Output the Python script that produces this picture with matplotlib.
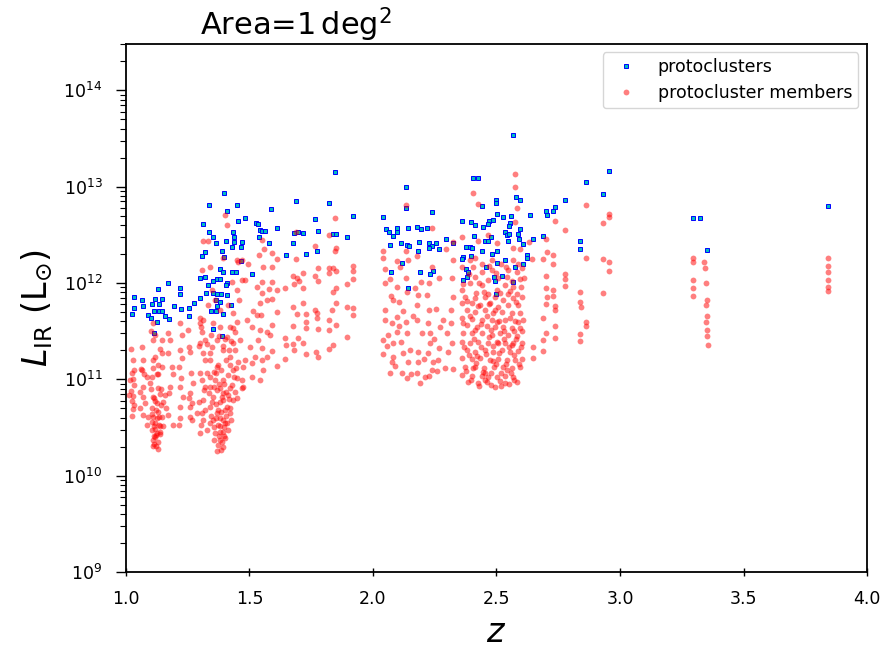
import numpy as np
import matplotlib.pyplot as plt

# protocluster total IR luminosity: (z, log10 L_IR [Lsun])
protoclusters = [
    (1.170, 12.00), (1.219, 11.95), (1.219, 11.89), (1.300, 12.05), (1.320, 12.06),
    (1.332, 11.98), (1.352, 12.02), (1.130, 11.94), (1.032, 11.85), (1.065, 11.82),
    (1.117, 11.83), (1.146, 11.83), (1.105, 11.78), (1.134, 11.78), (1.069, 11.76),
    (1.032, 11.74), (1.194, 11.76), (1.223, 11.73), (1.255, 11.74), (1.275, 11.79),
    (1.300, 11.84), (1.024, 11.68), (1.089, 11.67), (1.101, 11.64), (1.113, 11.71),
    (1.134, 11.71), (1.146, 11.71), (1.158, 11.66), (1.174, 11.63), (1.255, 11.66),
    (1.126, 11.59), (1.113, 11.48), (1.324, 11.90), (1.344, 11.71), (1.352, 11.52),
    (1.397, 12.93), (1.336, 12.81), (1.449, 12.81), (1.409, 12.75), (1.587, 12.77),
    (1.453, 12.64), (1.482, 12.67), (1.312, 12.61), (1.526, 12.62), (1.534, 12.61),
    (1.611, 12.57), (1.433, 12.53), (1.543, 12.55), (1.551, 12.54), (1.563, 12.54),
    (1.336, 12.53), (1.352, 12.48), (1.437, 12.48), (1.538, 12.48), (1.405, 12.43),
    (1.437, 12.42), (1.470, 12.42), (1.364, 12.41), (1.579, 12.41), (1.429, 12.37),
    (1.466, 12.37), (1.389, 12.33), (1.320, 12.32), (1.466, 12.23), (1.397, 12.27),
    (1.308, 12.28), (1.381, 12.14), (1.393, 12.11), (1.429, 12.11), (1.445, 12.11),
    (1.510, 12.09), (1.368, 12.04), (1.381, 12.04), (1.409, 12.00), (1.405, 11.98),
    (1.352, 11.90), (1.368, 11.89), (1.385, 11.88), (1.409, 11.87), (1.364, 11.82),
    (1.381, 11.80), (1.425, 11.77), (1.368, 11.76), (1.364, 11.71), (1.393, 11.68),
    (1.389, 11.45),
    (1.846, 13.15), (1.688, 12.85), (1.822, 12.83), (1.765, 12.66), (1.777, 12.54),
    (1.696, 12.53), (1.680, 12.52), (1.717, 12.52), (1.838, 12.51), (1.850, 12.51),
    (1.895, 12.48), (1.919, 12.69), (1.676, 12.41), (1.648, 12.29), (1.729, 12.30),
    (1.773, 12.33),
    (2.134, 13.00), (2.134, 12.78), (2.040, 12.68), (2.239, 12.74), (2.053, 12.56),
    (2.097, 12.57), (2.142, 12.57), (2.178, 12.58), (2.194, 12.56), (2.219, 12.57),
    (2.065, 12.53), (2.081, 12.49), (2.097, 12.53), (2.296, 12.46), (2.324, 12.41),
    (2.069, 12.39), (2.113, 12.41), (2.138, 12.39), (2.146, 12.38), (2.186, 12.42),
    (2.227, 12.41), (2.239, 12.38), (2.255, 12.41), (2.227, 12.36), (2.267, 12.35),
    (2.182, 12.33), (2.117, 12.21), (2.073, 12.11), (2.190, 12.11), (2.243, 12.12),
    (2.231, 12.09), (2.142, 11.95),
    (2.567, 13.54), (2.405, 13.09), (2.425, 13.09), (2.441, 12.80), (2.498, 12.86),
    (2.498, 12.83), (2.579, 12.89), (2.360, 12.64), (2.397, 12.63), (2.413, 12.60),
    (2.445, 12.58), (2.470, 12.64), (2.466, 12.61), (2.486, 12.65), (2.502, 12.71),
    (2.526, 12.68), (2.555, 12.62), (2.551, 12.59), (2.559, 12.69), (2.595, 12.56),
    (2.409, 12.49), (2.478, 12.48), (2.453, 12.43), (2.466, 12.44), (2.534, 12.53),
    (2.543, 12.50), (2.547, 12.43), (2.551, 12.51), (2.587, 12.51), (2.591, 12.46),
    (2.607, 12.40), (2.377, 12.37), (2.393, 12.37), (2.401, 12.36), (2.397, 12.28),
    (2.364, 12.27), (2.360, 12.25), (2.441, 12.33), (2.482, 12.30), (2.502, 12.33),
    (2.502, 12.21), (2.534, 12.24), (2.575, 12.16), (2.607, 12.20), (2.377, 12.14),
    (2.385, 12.11), (2.457, 12.17), (2.364, 12.03), (2.381, 12.06), (2.522, 12.07),
    (2.490, 12.06), (2.494, 12.02), (2.567, 12.01), (2.498, 11.89),
    (2.955, 13.16), (2.862, 13.05), (2.931, 12.92), (2.595, 12.86), (2.777, 12.86),
    (2.737, 12.79), (2.729, 12.75), (2.700, 12.75), (2.704, 12.70), (2.636, 12.70),
    (2.648, 12.46), (2.688, 12.49), (2.838, 12.44), (2.838, 12.35), (2.623, 12.29),
    (2.623, 12.26),
    (3.296, 12.67), (3.324, 12.67), (3.352, 12.34), (3.842, 12.80),
]

# protocluster members, 1.0 < z < 1.33
members_z1 = [
    (1.020, 11.31), (1.028, 11.20), (1.032, 11.10), (1.024, 11.06), (1.028, 11.00),
    (1.032, 10.94), (1.020, 10.88), (1.028, 10.83), (1.024, 10.77), (1.032, 10.73),
    (1.028, 10.69), (1.024, 10.62), (1.012, 10.84), (1.016, 10.99),
    (1.065, 11.33), (1.069, 11.20), (1.065, 11.10), (1.085, 11.02), (1.069, 10.92),
    (1.057, 10.87), (1.069, 10.82), (1.077, 10.75), (1.057, 10.70), (1.069, 10.63),
    (1.089, 10.61), (1.085, 10.53), (1.061, 11.11), (1.073, 11.05),
    (1.109, 11.58), (1.117, 11.46), (1.146, 11.41), (1.109, 11.41), (1.109, 11.20),
    (1.146, 11.13), (1.126, 11.05), (1.097, 10.96), (1.130, 10.91), (1.109, 10.82),
    (1.126, 10.75), (1.105, 10.70), (1.130, 10.66), (1.109, 10.61), (1.117, 10.55),
    (1.105, 10.47), (1.126, 10.44), (1.109, 10.37), (1.109, 10.31), (1.138, 10.51),
    (1.101, 11.50), (1.138, 11.31), (1.117, 11.23), (1.130, 11.15), (1.105, 11.02),
    (1.138, 10.85), (1.113, 10.81), (1.142, 10.73), (1.121, 10.68), (1.134, 10.61),
    (1.105, 10.56), (1.138, 10.45), (1.117, 10.40), (1.130, 10.35), (1.121, 10.31),
    (1.113, 10.51),
    (1.113, 10.33), (1.121, 10.42), (1.134, 10.53), (1.105, 10.64), (1.126, 10.60),
    (1.117, 10.77), (1.142, 10.90), (1.101, 10.90), (1.130, 11.05), (1.109, 11.12),
    (1.146, 11.27), (1.118, 10.48), (1.128, 10.28), (1.113, 10.41),
    (1.170, 11.48), (1.170, 11.27), (1.178, 10.92), (1.158, 10.84), (1.150, 10.76),
    (1.170, 10.63), (1.146, 10.61), (1.150, 10.51), (1.138, 10.43), (1.190, 11.05),
    (1.178, 11.41), (1.186, 11.13), (1.174, 10.86), (1.190, 10.53), (1.162, 10.70),
    (1.219, 11.58), (1.227, 11.46), (1.219, 11.30), (1.227, 11.22), (1.219, 10.92),
    (1.219, 10.71), (1.219, 10.60), (1.215, 11.13), (1.223, 11.01), (1.231, 10.82),
    (1.215, 10.53),
    (1.259, 11.28), (1.259, 10.86), (1.267, 10.75), (1.259, 10.61), (1.287, 10.65),
    (1.259, 10.71), (1.251, 11.51), (1.255, 11.33), (1.263, 11.07), (1.271, 10.96),
    (1.255, 10.81), (1.267, 10.58),
    (1.300, 11.58), (1.308, 11.49), (1.300, 11.38), (1.320, 11.20), (1.300, 11.06),
    (1.312, 10.58), (1.312, 11.27), (1.308, 10.99), (1.312, 10.78), (1.308, 10.65),
    (1.300, 11.64), (1.304, 11.54), (1.296, 11.35), (1.316, 10.89), (1.296, 10.76),
    (1.300, 10.44), (1.304, 10.53),
]

# protocluster members, 1.33 < z < 1.48
members_z2 = [
    (1.328, 11.37), (1.340, 11.20), (1.368, 11.13), (1.328, 11.06), (1.340, 10.92),
    (1.381, 10.91), (1.393, 10.86), (1.352, 10.82), (1.381, 10.76), (1.409, 10.71),
    (1.340, 10.71), (1.368, 10.65), (1.393, 10.58), (1.340, 10.55), (1.381, 10.51),
    (1.409, 10.55), (1.360, 10.44), (1.393, 10.45), (1.381, 10.37), (1.393, 10.30),
    (1.328, 10.47), (1.381, 11.54), (1.368, 11.41), (1.433, 11.69), (1.449, 11.59),
    (1.421, 11.54), (1.441, 11.49), (1.409, 11.44), (1.433, 11.38), (1.393, 11.35),
    (1.441, 11.30), (1.421, 11.23), (1.453, 11.18), (1.433, 11.10), (1.470, 10.99),
    (1.474, 10.92), (1.441, 10.87), (1.433, 10.78), (1.421, 10.70), (1.482, 11.20),
    (1.340, 12.16), (1.453, 12.22), (1.312, 11.61), (1.352, 11.58), (1.433, 11.53),
    (1.320, 11.41), (1.462, 11.41), (1.340, 11.27), (1.393, 11.30), (1.372, 11.15),
    (1.421, 11.15), (1.474, 11.13), (1.340, 11.02), (1.393, 10.99), (1.449, 11.01),
    (1.320, 10.92), (1.368, 10.89), (1.421, 10.91), (1.470, 10.91), (1.393, 10.78),
    (1.449, 10.81), (1.320, 10.68), (1.372, 10.68), (1.421, 10.65), (1.352, 10.58),
    (1.401, 10.55), (1.381, 10.45), (1.401, 10.39), (1.372, 10.32),
    (1.401, 12.70), (1.409, 12.60), (1.312, 12.44), (1.332, 12.44), (1.393, 12.26),
    (1.449, 12.24), (1.470, 12.24), (1.308, 12.13), (1.470, 12.03), (1.449, 11.93),
    (1.457, 11.82), (1.360, 11.82), (1.413, 11.77), (1.348, 11.93), (1.381, 11.72),
    (1.429, 12.01), (1.332, 11.77),
    (1.360, 10.99), (1.413, 10.84), (1.348, 10.76), (1.401, 10.68), (1.372, 10.53),
    (1.413, 10.47), (1.356, 10.37), (1.381, 10.60), (1.405, 10.87), (1.429, 10.94),
    (1.364, 11.06), (1.405, 11.20),
    (1.336, 10.86), (1.344, 10.62), (1.356, 10.50), (1.364, 10.74), (1.376, 10.41),
    (1.385, 10.66), (1.389, 10.35), (1.397, 10.50), (1.405, 10.62), (1.389, 10.82),
    (1.377, 10.95), (1.358, 10.92), (1.397, 10.95), (1.417, 10.80), (1.413, 11.04),
    (1.385, 11.10), (1.356, 11.08), (1.348, 11.34), (1.417, 11.30), (1.437, 11.02),
    (1.425, 10.58), (1.368, 10.26), (1.385, 10.27), (1.397, 10.41), (1.364, 10.60),
    (1.401, 11.42), (1.377, 11.45), (1.425, 11.40), (1.346, 11.46), (1.445, 11.12),
]

# protocluster members, 1.48 < z < 1.95
members_z3 = [
    (1.494, 12.20), (1.555, 12.16), (1.482, 12.03), (1.530, 11.96), (1.551, 11.90),
    (1.571, 11.82), (1.543, 11.79), (1.530, 11.67), (1.510, 11.54), (1.543, 11.51),
    (1.571, 11.49), (1.534, 11.41), (1.551, 11.32), (1.571, 11.23), (1.522, 11.23),
    (1.510, 11.17), (1.555, 11.10), (1.510, 11.02), (1.551, 12.45), (1.559, 12.35),
    (1.538, 12.29), (1.551, 12.01), (1.579, 11.94), (1.514, 11.71), (1.547, 11.67),
    (1.551, 11.20), (1.543, 10.99), (1.502, 11.34), (1.490, 11.61),
    (1.846, 12.67), (1.688, 12.53), (1.822, 12.50), (1.850, 12.36), (1.846, 12.33),
    (1.765, 12.38), (1.919, 12.18), (1.919, 12.12), (1.919, 12.04), (1.895, 11.99),
    (1.611, 12.25), (1.688, 12.25), (1.591, 12.31), (1.591, 12.16), (1.717, 12.10),
    (1.777, 12.15), (1.765, 12.07), (1.822, 12.15), (1.838, 12.15), (1.850, 12.12),
    (1.822, 12.10), (1.676, 12.07), (1.692, 12.05), (1.700, 12.02), (1.680, 11.99),
    (1.717, 11.95), (1.644, 11.95), (1.777, 12.02), (1.591, 12.01), (1.611, 11.93),
    (1.850, 11.95), (1.838, 11.91), (1.591, 11.83), (1.717, 11.79), (1.850, 11.79),
    (1.895, 11.75), (1.919, 11.74), (1.919, 11.67), (1.676, 11.75), (1.611, 11.70),
    (1.692, 11.68), (1.729, 11.68), (1.729, 11.59), (1.729, 11.53), (1.765, 11.72),
    (1.773, 11.69), (1.773, 11.64), (1.834, 11.72), (1.822, 11.62), (1.850, 11.56),
    (1.822, 11.51), (1.777, 11.52), (1.676, 11.55), (1.591, 11.56), (1.583, 11.46),
    (1.644, 11.43), (1.648, 11.36), (1.676, 11.37), (1.696, 11.43), (1.717, 11.38),
    (1.680, 11.30), (1.729, 11.26), (1.769, 11.28), (1.777, 11.23), (1.822, 11.31),
    (1.838, 11.36), (1.895, 11.44), (1.644, 11.21), (1.611, 11.14), (1.591, 11.29),
]

# protocluster members, 2.0 < z < 2.35
members_z4 = [
    (2.134, 12.81), (2.239, 12.57), (2.040, 12.33), (2.040, 12.26), (2.134, 12.33),
    (2.178, 12.28), (2.097, 12.23), (2.049, 12.14), (2.109, 12.16), (2.142, 12.24),
    (2.239, 12.17), (2.324, 12.24), (2.324, 12.42), (2.296, 12.35), (2.134, 12.05),
    (2.069, 12.04), (2.049, 12.00), (2.097, 11.96), (2.194, 12.01), (2.227, 12.00),
    (2.267, 12.05), (2.320, 12.05), (2.138, 11.91), (2.073, 11.86), (2.081, 11.82),
    (2.182, 11.87), (2.219, 11.87), (2.324, 11.85), (2.049, 11.72), (2.121, 11.71),
    (2.097, 11.65), (2.178, 11.77), (2.227, 11.72), (2.255, 11.73), (2.316, 11.72),
    (2.049, 11.61), (2.077, 11.58), (2.134, 11.59), (2.178, 11.61), (2.223, 11.58),
    (2.271, 11.54), (2.316, 11.58), (2.061, 11.46), (2.097, 11.49), (2.138, 11.48),
    (2.198, 11.48), (2.231, 11.48), (2.040, 11.41), (2.081, 11.38), (2.113, 11.39),
    (2.231, 11.38), (2.267, 11.32), (2.320, 11.38), (2.040, 11.26), (2.081, 11.23),
    (2.121, 11.27), (2.182, 11.28), (2.223, 11.27), (2.304, 11.28), (2.077, 11.18),
    (2.142, 11.18), (2.182, 11.18), (2.243, 11.18), (2.291, 11.12), (2.324, 11.11),
    (2.069, 11.07), (2.117, 11.06), (2.178, 11.06), (2.239, 11.10), (2.138, 11.01),
    (2.190, 10.96), (2.227, 11.03),
    (2.056, 11.35), (2.089, 11.14), (2.105, 11.55), (2.150, 11.30), (2.162, 11.66),
    (2.206, 11.21), (2.247, 11.42), (2.259, 11.09), (2.283, 11.62), (2.300, 11.48),
    (2.154, 11.05), (2.210, 11.02), (2.263, 11.20), (2.105, 11.80), (2.170, 11.95),
]

# protocluster members, 2.35 < z < 2.62
members_z5 = [
    (2.575, 13.13), (2.575, 13.00), (2.405, 12.93), (2.425, 12.82), (2.583, 12.78),
    (2.466, 12.50), (2.575, 12.63), (2.360, 12.48), (2.425, 12.44), (2.595, 12.35),
    (2.567, 12.36), (2.502, 12.41), (2.413, 12.26), (2.393, 12.24), (2.441, 12.20),
    (2.482, 12.24), (2.518, 12.20), (2.567, 12.24), (2.587, 12.20), (2.603, 12.15),
    (2.360, 12.16), (2.405, 12.16), (2.441, 12.11), (2.482, 12.13), (2.547, 12.13),
    (2.583, 12.11), (2.413, 12.06), (2.466, 12.03), (2.506, 12.05), (2.543, 12.06),
    (2.595, 12.04), (2.364, 11.99), (2.393, 12.00), (2.441, 11.98), (2.534, 11.98),
    (2.567, 11.96), (2.360, 11.93), (2.417, 11.90), (2.466, 11.89), (2.514, 11.90),
    (2.547, 11.89), (2.583, 11.89), (2.372, 11.85), (2.413, 11.84), (2.453, 11.85),
    (2.494, 11.85), (2.567, 11.84), (2.603, 11.85), (2.360, 11.79), (2.401, 11.79),
    (2.433, 11.77), (2.474, 11.79), (2.506, 11.75), (2.547, 11.77), (2.587, 11.77),
    (2.381, 11.72), (2.413, 11.70), (2.453, 11.72), (2.486, 11.69), (2.522, 11.70),
    (2.563, 11.69), (2.595, 11.69), (2.360, 11.64), (2.401, 11.63), (2.441, 11.62),
    (2.482, 11.61), (2.502, 11.59), (2.534, 11.62), (2.575, 11.60), (2.607, 11.61),
    (2.381, 11.56), (2.421, 11.54), (2.462, 11.55), (2.494, 11.54), (2.526, 11.54),
    (2.563, 11.53), (2.595, 11.53), (2.364, 11.48), (2.401, 11.48), (2.441, 11.48),
    (2.482, 11.46), (2.514, 11.48), (2.547, 11.46), (2.583, 11.45), (2.360, 11.39),
    (2.393, 11.38), (2.425, 11.39), (2.466, 11.38), (2.502, 11.39), (2.534, 11.38),
    (2.567, 11.38), (2.603, 11.38), (2.381, 11.30), (2.413, 11.28), (2.453, 11.30),
    (2.486, 11.28), (2.522, 11.30), (2.555, 11.28), (2.587, 11.29), (2.360, 11.22),
    (2.401, 11.21), (2.433, 11.22), (2.474, 11.20), (2.506, 11.21), (2.543, 11.20),
    (2.575, 11.20), (2.603, 11.21), (2.372, 11.13), (2.413, 11.13), (2.449, 11.12),
    (2.490, 11.13), (2.526, 11.13), (2.563, 11.12), (2.595, 11.13), (2.360, 11.04),
    (2.401, 11.03), (2.441, 11.03), (2.466, 11.02), (2.502, 11.02), (2.534, 11.03),
    (2.567, 11.02), (2.385, 10.97), (2.425, 10.96), (2.462, 10.97), (2.494, 10.92),
    (2.534, 10.96), (2.583, 10.97),
    (2.368, 11.34), (2.389, 11.25), (2.407, 11.42), (2.418, 11.17), (2.437, 11.33),
    (2.447, 11.08), (2.458, 11.26), (2.470, 11.44), (2.478, 11.07), (2.486, 11.35),
    (2.498, 11.16), (2.510, 11.27), (2.518, 11.06), (2.530, 11.42), (2.539, 11.16),
    (2.551, 11.33), (2.559, 11.07), (2.571, 11.25), (2.579, 11.42), (2.591, 11.16),
    (2.599, 11.33), (2.376, 11.09), (2.395, 10.99), (2.429, 10.93), (2.455, 10.99),
    (2.478, 10.94), (2.514, 10.98), (2.549, 10.95), (2.571, 10.99), (2.520, 10.93),
    (2.366, 11.58), (2.391, 11.66), (2.411, 11.51), (2.437, 11.57), (2.460, 11.66),
    (2.476, 11.51), (2.492, 11.72), (2.512, 11.60), (2.530, 11.50), (2.553, 11.64),
    (2.569, 11.50), (2.589, 11.59), (2.605, 11.50), (2.379, 11.81), (2.425, 11.76),
    (2.449, 11.91), (2.468, 11.78), (2.504, 11.93), (2.528, 11.82), (2.555, 11.92),
    (2.579, 11.80), (2.600, 11.96), (2.387, 12.09), (2.429, 12.00), (2.500, 12.10),
    (2.537, 12.17), (2.561, 12.02), (2.470, 12.18), (2.453, 11.07), (2.484, 11.19),
    (2.543, 11.10), (2.508, 11.38), (2.421, 11.24), (2.403, 11.12), (2.562, 11.36),
]

# protocluster members, z > 2.62
members_z6 = [
    (2.862, 12.81), (2.955, 12.72), (2.955, 12.68), (2.931, 12.62), (2.737, 12.64),
    (2.777, 12.55), (2.700, 12.46), (2.632, 12.42), (2.704, 12.32), (2.729, 12.29),
    (2.729, 12.20), (2.688, 12.25), (2.644, 12.25), (2.862, 12.26), (2.931, 12.25),
    (2.955, 12.22), (2.955, 12.12), (2.700, 12.07), (2.777, 12.09), (2.777, 12.04),
    (2.777, 11.97), (2.700, 11.95), (2.729, 11.93), (2.838, 11.91), (2.931, 11.90),
    (2.611, 12.05), (2.729, 11.86), (2.704, 11.85), (2.838, 11.80), (2.842, 11.75),
    (2.737, 11.76), (2.737, 11.72), (2.700, 11.78), (2.688, 11.64), (2.862, 11.59),
    (2.862, 11.55), (2.737, 11.55), (2.700, 11.48), (2.838, 11.47), (2.688, 11.41),
    (2.737, 11.43), (2.838, 11.40), (2.688, 11.29), (2.648, 11.33), (2.648, 11.22),
    (3.296, 12.26), (3.296, 12.22), (3.296, 12.03), (3.296, 11.95), (3.296, 11.86),
    (3.340, 12.22), (3.344, 12.15), (3.348, 12.00), (3.352, 11.82), (3.348, 11.77),
    (3.352, 11.66), (3.348, 11.59), (3.352, 11.51), (3.352, 11.45), (3.356, 11.36),
    (3.842, 12.26), (3.842, 12.18), (3.842, 12.11), (3.842, 12.03), (3.842, 11.96),
    (3.842, 11.92),
]

pc = np.array(protoclusters)
mem = np.array(members_z1 + members_z2 + members_z3 + members_z4 + members_z5 + members_z6)

fig = plt.figure(figsize=(8.87, 6.5), dpi=100)
ax = fig.add_axes([0.142, 0.12, 0.8355, 0.812])

ax.plot(pc[:, 0], 10**pc[:, 1], 's', ls='none', ms=2.5, mfc='c', mec='b', mew=0.7,
        label='protoclusters')
ax.plot(mem[:, 0], 10**mem[:, 1], 'o', ls='none', ms=4.2, color='r', mew=0, alpha=0.5,
        label='protocluster members')

ax.set_yscale('log')
ax.set_xlim(1.0, 4.0)
ax.set_ylim(1e9, 3e14)
ax.set_xlabel(r'$z$', fontsize=24, labelpad=6)
ax.set_ylabel(r'$L_{\rm IR}$ (L$_{\odot}$)', fontsize=24, labelpad=6)
ax.tick_params(axis='x', which='major', direction='inout', length=6, width=1,
               labelsize=12.5, pad=10)
ax.tick_params(axis='y', which='major', direction='out', length=7, width=1,
               labelsize=12.5, pad=10)
ax.tick_params(axis='y', which='minor', direction='out', length=4, width=0.8)
for s in ax.spines.values():
    s.set_linewidth(1.3)

ax.text(0.1, 1.0, r'Area=1$\,$deg$^2$', transform=ax.transAxes, fontsize=22,
        va='bottom', ha='left')
ax.legend(loc='upper right', fontsize=12.5, bbox_to_anchor=(0.988, 0.985),
          borderaxespad=0, borderpad=0.35, labelspacing=0.45)

fig.savefig('out.png', dpi=100)
